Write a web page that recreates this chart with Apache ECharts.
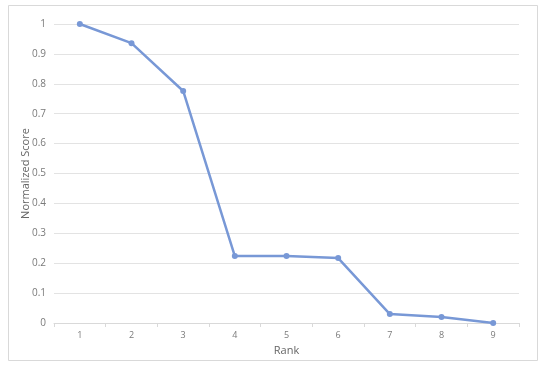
<!DOCTYPE html>
<html>
<head>
<meta charset="utf-8">
<script src="https://cdn.jsdelivr.net/npm/echarts@6/dist/echarts.min.js"></script>
<style>
html, body { margin: 0; padding: 0; background: #fff; }
#chart { width: 550px; height: 371px; }
</style>
</head>
<body>
<div id="chart"></div>
<script>
var ranks = ['1', '2', '3', '4', '5', '6', '7', '8', '9'];
var scores = [1, 0.936, 0.776, 0.224, 0.224, 0.217, 0.03, 0.02, 0];

var chart = echarts.init(document.getElementById('chart'));
var option = {
    backgroundColor: '#fff',
    animation: false,
    graphic: [
        {
            type: 'rect',
            shape: {x: 8.5, y: 5.5, width: 529, height: 355},
            style: {fill: 'none', stroke: '#d9d9d9', lineWidth: 1},
            silent: true
        }
    ],
    grid: {left: 54, right: 31, top: 24, bottom: 48, outerBoundsMode: 'none'},
    xAxis: {
        type: 'category',
        data: ranks,
        boundaryGap: true,
        name: 'Rank',
        nameLocation: 'middle',
        nameGap: 22,
        nameMoveOverlap: false,
        nameTextStyle: {color: '#666', fontSize: 11, fontFamily: 'Open Sans'},
        axisLine: {lineStyle: {color: '#d9d9d9'}},
        axisTick: {show: true, alignWithLabel: false, length: 4, lineStyle: {color: '#d9d9d9'}},
        axisLabel: {color: '#7a7a7a', fontSize: 9, margin: 8, fontFamily: 'Open Sans'}
    },
    yAxis: {
        type: 'value',
        min: 0,
        max: 1,
        interval: 0.1,
        name: 'Normalized Score',
        nameLocation: 'middle',
        nameGap: 23,
        nameMoveOverlap: false,
        nameTextStyle: {color: '#666', fontSize: 11, fontFamily: 'Open Sans'},
        axisLine: {show: false},
        axisTick: {show: false},
        axisLabel: {color: '#7a7a7a', fontSize: 10, margin: 8, fontFamily: 'Open Sans',
            formatter: function (v) { return Math.round(v * 10) / 10 + ''; }},
        splitLine: {lineStyle: {color: '#e3e3e3', width: 1}}
    },
    series: [
        {
            name: 'Normalized Score',
            type: 'line',
            data: scores,
            symbol: 'circle',
            symbolSize: 6,
            lineStyle: {color: '#7898d6', width: 2.5},
            itemStyle: {color: '#7898d6'}
        }
    ]
};
chart.setOption(option);
</script>
</body>
</html>
